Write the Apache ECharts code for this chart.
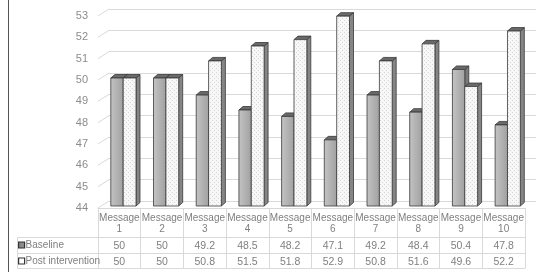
<!DOCTYPE html>
<html>
<head>
<meta charset="utf-8">
<script src="https://cdn.jsdelivr.net/npm/echarts@6/dist/echarts.min.js"></script>
<style>
  html, body { margin: 0; padding: 0; background: #fff; }
  #chart { width: 542px; height: 278px; }
</style>
</head>
<body>
<div id="chart"></div>
<script>
// data
const categories = ['Message 1', 'Message 2', 'Message 3', 'Message 4', 'Message 5',
  'Message 6', 'Message 7', 'Message 8', 'Message 9', 'Message 10'];
const seriesNames = ['Baseline', 'Post intervention'];
const baseline = [50, 50, 49.2, 48.5, 48.2, 47.1, 49.2, 48.4, 50.4, 47.8];
const postIntervention = [50, 50, 50.8, 51.5, 51.8, 52.9, 50.8, 51.6, 49.6, 52.2];
const yTicks = [44, 45, 46, 47, 48, 49, 50, 51, 52, 53];

const font = "'Liberation Sans', Arial, sans-serif";
const textGrey = '#7f7f7f';
const lineGrey = '#d9d9d9';
const backX = 11, backY = 7;      // offset of the back wall
const depthX = 4, depthY = 3.5;   // depth of each bar
const lift = 2;

// dotted fill for the post intervention bars
const pat = document.createElement('canvas');
pat.width = 4; pat.height = 4;
const pc = pat.getContext('2d');
pc.fillStyle = '#f7f7f7'; pc.fillRect(0, 0, 4, 4);
pc.fillStyle = '#d6d6d6'; pc.fillRect(0, 0, 1, 1); pc.fillRect(2, 2, 1, 1);
const dotted = { type: 'pattern', image: pat, repeat: 'repeat' };

function bar3d(offsetFrac, widthFrac, face, side, cap) {
  return function (params, api) {
    const i = api.value(0), v = api.value(1);
    const bw = api.size([1, 0])[0];
    const t = api.coord([i, v]);
    const b = api.coord([i, yTicks[0]]);
    const x0 = t[0] - bw / 2 + bw * offsetFrac;
    const w = bw * widthFrac;
    const y1 = t[1] - lift, y0 = b[1] - lift;
    const st = { stroke: '#3a3a3a', lineWidth: 0.8 };
    return {
      type: 'group',
      children: [
        { type: 'polygon', shape: { points: [[x0 + w, y1], [x0 + w + depthX, y1 - depthY], [x0 + w + depthX, y0 - depthY], [x0 + w, y0]] },
          style: Object.assign({ fill: side }, st) },
        { type: 'polygon', shape: { points: [[x0, y1], [x0 + depthX, y1 - depthY], [x0 + w + depthX, y1 - depthY], [x0 + w, y1]] },
          style: Object.assign({ fill: cap }, st) },
        { type: 'rect', shape: { x: x0, y: y1, width: w, height: y0 - y1 },
          style: Object.assign({ fill: face }, st) }
      ]
    };
  };
}

const chart = echarts.init(document.getElementById('chart'), null, { renderer: 'canvas' });

const tableAxis = (offset, labels, showLabel) => ({
  type: 'category', gridIndex: 0, position: 'bottom', offset: offset,
  data: categories,
  axisLine: { show: true, lineStyle: { color: lineGrey } },
  axisTick: { show: false },
  axisLabel: {
    show: showLabel, margin: 4, fontSize: 10.5, fontFamily: font, color: textGrey,
    formatter: (val, idx) => String(labels[idx])
  }
});

const legendCell = (name, fill, top) => ({
  data: [{ name: name, itemStyle: { color: fill, borderColor: '#333', borderWidth: 1.2 } }],
  left: 18, top: top, padding: 0, icon: 'rect', itemWidth: 6, itemHeight: 6, itemGap: 2,
  textStyle: { fontSize: 10, fontFamily: font, color: textGrey, padding: [0, 0, 0, -4] },
  selectedMode: false
});

chart.setOption({
  animation: false,
  textStyle: { fontFamily: font },
  grid: [
    { left: 98, right: 17, top: 16, height: 192 },
    { left: 98 + backX, right: 17 - backX, top: 16 - backY, height: 192 }
  ],
  legend: [
    legendCell(seriesNames[0], '#8a8a8a', 240),
    legendCell(seriesNames[1], '#ffffff', 256)
  ],
  xAxis: [
    {
      type: 'category', gridIndex: 0, data: categories,
      axisLine: { show: true, lineStyle: { color: lineGrey } },
      axisTick: { show: true, length: 60, lineStyle: { color: lineGrey } },
      axisLabel: {
        margin: 5, fontSize: 10, lineHeight: 11, fontFamily: font, color: textGrey,
        interval: 0, formatter: v => v.replace(' ', '\n')
      }
    },
    tableAxis(29, baseline, true),
    tableAxis(45, postIntervention, true),
    tableAxis(60, categories, false),
    { type: 'category', gridIndex: 1, data: categories, show: false }
  ],
  yAxis: [
    {
      type: 'value', gridIndex: 0, min: yTicks[0], max: yTicks[yTicks.length - 1], interval: 1,
      axisLine: { show: false }, axisTick: { show: false }, splitLine: { show: false },
      axisLabel: { margin: 10, fontSize: 11, fontFamily: font, color: '#8c8c8c' }
    },
    {
      type: 'value', gridIndex: 1, min: yTicks[0], max: yTicks[yTicks.length - 1], interval: 1,
      axisLine: { show: false }, axisTick: { show: false }, axisLabel: { show: false },
      splitLine: { show: true, lineStyle: { color: lineGrey, width: 1 } }
    }
  ],
  graphic: [
    // outer frame edge and left header cells of the data table
    { type: 'line', shape: { x1: 8.5, y1: 0, x2: 8.5, y2: 272 }, style: { stroke: '#555', lineWidth: 1 } },
    { type: 'line', shape: { x1: 17.5, y1: 237.5, x2: 98, y2: 237.5 }, style: { stroke: lineGrey } },
    { type: 'line', shape: { x1: 17.5, y1: 253.5, x2: 98, y2: 253.5 }, style: { stroke: lineGrey } },
    { type: 'line', shape: { x1: 17.5, y1: 268.5, x2: 98, y2: 268.5 }, style: { stroke: lineGrey } },
    { type: 'line', shape: { x1: 17.5, y1: 237.5, x2: 17.5, y2: 268.5 }, style: { stroke: lineGrey } }
  ],
  series: [
    {
      // diagonal connectors from the front to the back wall
      type: 'custom', xAxisIndex: 0, yAxisIndex: 0, silent: true,
      data: yTicks.map(v => [0, v]),
      renderItem: (params, api) => {
        const p = api.coord([api.value(0), api.value(1)]);
        const x = p[0] - api.size([1, 0])[0] / 2;
        return { type: 'line', shape: { x1: x, y1: p[1], x2: x + backX, y2: p[1] - backY },
          style: { stroke: lineGrey, lineWidth: 1 } };
      }
    },
    {
      name: seriesNames[0], type: 'custom', xAxisIndex: 0, yAxisIndex: 0,
      itemStyle: { color: '#8a8a8a' },
      data: baseline.map((v, i) => [i, v]),
      encode: { x: 0, y: 1 },
      renderItem: bar3d(0.30, 0.29,
        { type: 'linear', x: 0, y: 0, x2: 1, y2: 0, colorStops: [{ offset: 0, color: '#c4c4c4' }, { offset: 1, color: '#a0a0a0' }] },
        '#7a7a7a', '#6a6a6a')
    },
    {
      name: seriesNames[1], type: 'custom', xAxisIndex: 0, yAxisIndex: 0,
      itemStyle: { color: '#ffffff' },
      data: postIntervention.map((v, i) => [i, v]),
      encode: { x: 0, y: 1 },
      renderItem: bar3d(0.59, 0.30, dotted, '#858585', '#6a6a6a')
    }
  ]
});
</script>
</body>
</html>
